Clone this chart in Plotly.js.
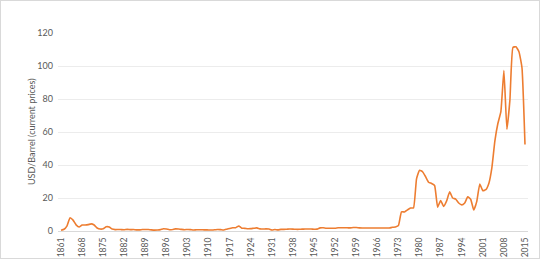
<!DOCTYPE html>
<html><head><meta charset="utf-8">
<script src="https://cdn.plot.ly/plotly-3.0.1.min.js"></script>
<style>html,body{margin:0;padding:0;background:#fff}#c{width:538px;height:257px;border:1px solid #d9d9d9}</style>
</head><body><div id="c"></div>
<script>
const years = [];
for (let y = 1861; y <= 2015; y++) years.push(y);
const prices = [
0.49,1.05,3.15,8.06,6.59,3.74,2.41,3.63,3.64,3.86,4.34,3.64,1.83,1.17,1.35,2.56,2.42,1.19,0.86,0.95,
0.86,0.78,1.00,0.84,0.88,0.71,0.67,0.88,0.94,0.87,0.67,0.56,0.64,0.84,1.36,1.18,0.79,0.91,1.29,1.19,
0.96,0.80,0.94,0.86,0.62,0.73,0.72,0.72,0.70,0.61,0.61,0.74,0.95,0.81,0.64,1.10,1.56,1.98,2.01,3.07,
1.73,1.61,1.34,1.43,1.68,1.88,1.30,1.17,1.27,1.19,0.65,0.87,0.67,1.00,0.97,1.09,1.18,1.13,1.02,1.02,
1.14,1.19,1.20,1.21,1.05,1.12,1.90,1.99,1.71,1.71,1.71,1.71,1.93,1.93,1.93,1.93,1.90,2.08,2.08,1.90,
1.80,1.80,1.80,1.80,1.80,1.80,1.80,1.80,1.80,1.80,2.24,2.48,3.29,11.58,11.53,12.80,13.92,14.02,31.61,36.83,
35.93,32.97,29.55,28.78,27.56,14.43,18.44,14.92,18.23,23.73,20.00,19.32,16.97,15.82,17.02,20.67,19.09,12.72,17.97,28.50,
24.44,25.02,28.83,38.27,54.52,65.14,72.39,97.26,61.67,79.50,111.26,111.67,108.66,98.95,52.39
];
const tickYears = [];
for (let y = 1861; y <= 2015; y += 7) tickYears.push(y);
const tickLabels = tickYears.map(String);
const yTicks = [0,20,40,60,80,100,120];
const yTitle = 'USD/Barrel (current prices)';

const font = {family: 'Lato, "Liberation Sans", sans-serif', size: 9, color: '#595959'};
const xfont = {family: 'Lato, "Liberation Sans", sans-serif', size: 8.6, color: '#595959'};
Plotly.newPlot('c', [{
  x: years, y: prices, type: 'scatter', mode: 'lines',
  line: {color: '#ED7D31', width: 1.6, shape: 'spline', smoothing: 0.4},
  hoverinfo: 'none'
}], {
  width: 538, height: 257,
  margin: {l: 57, r: 11, t: 32, b: 27},
  paper_bgcolor: '#fff', plot_bgcolor: '#fff',
  showlegend: false,
  font: font,
  xaxis: {
    range: [1860, 2016], tickmode: 'array', tickvals: tickYears, ticktext: tickLabels,
    tickangle: -90, showgrid: false, zeroline: false,
    showline: true, linecolor: '#d9d9d9', linewidth: 1,
    ticks: '', tickfont: xfont, automargin: false, ticklabelstandoff: 2
  },
  yaxis: {
    range: [0, 120], tickmode: 'array', tickvals: yTicks, ticktext: yTicks.map(String),
    showgrid: true, gridcolor: '#ececec', gridwidth: 1, zeroline: false,
    showline: false, ticks: '', ticklen: 0, tickfont: font, automargin: false,
    ticklabelstandoff: 4
  },
  annotations: [{
    text: yTitle, xref: 'paper', yref: 'paper', x: 0, y: 0.5,
    xanchor: 'center', yanchor: 'middle', xshift: -27, textangle: -90,
    showarrow: false, font: font
  }]
}, {staticPlot: true, displayModeBar: false});
</script></body></html>
